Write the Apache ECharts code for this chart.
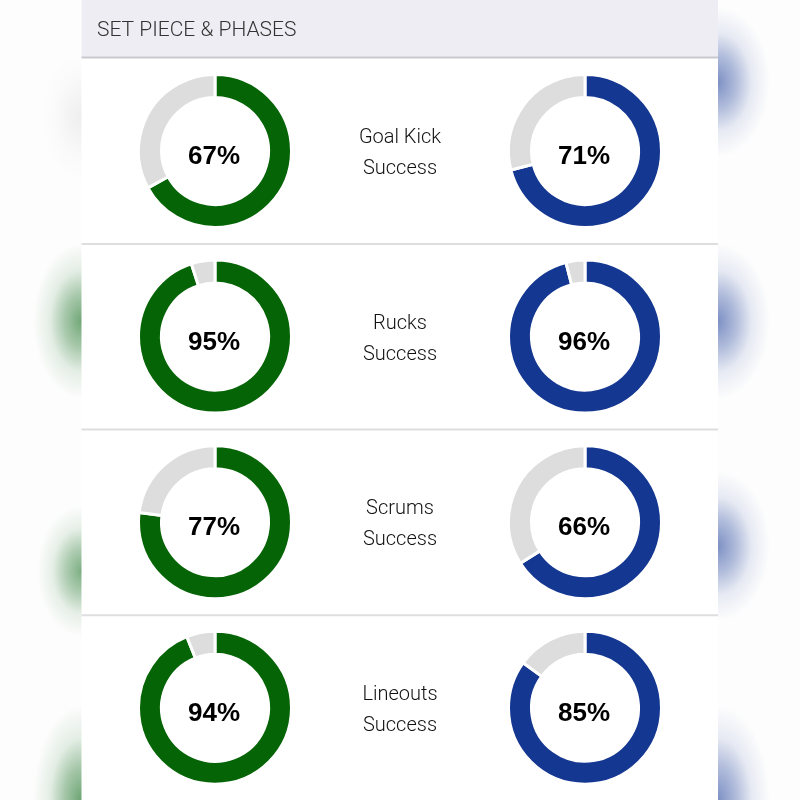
<!DOCTYPE html>
<html>
<head>
<meta charset="utf-8">
<title>Set piece & phases</title>
<script src="https://cdn.jsdelivr.net/npm/echarts@6/dist/echarts.min.js"></script>
<style>
    html, body { margin: 0; padding: 0; }
    body { width: 800px; height: 800px; overflow: hidden; background-color: #fdfdfd; }
    #chart { width: 800px; height: 800px; }
</style>
</head>
<body>
<div id="chart"></div>
<script>
var heading = 'SET PIECE & PHASES';
var categories = ['Goal Kick', 'Rucks', 'Scrums', 'Lineouts'];
var sublabel = 'Success';
var leftValues = [67, 95, 77, 94];
var rightValues = [71, 96, 66, 85];

var GREEN = '#056405';
var BLUE = '#143791';
var REST = '#dddddd';
var ROW_H = 185.6;
var LIGHT_FONT = 'Roboto, "Liberation Sans", sans-serif';

// Nền mờ hai bên khung
var blurs = [
    [81, 117, 40, 65, '120,130,120', 0.12],
    [81, 321, 48, 78, '20,110,30', 0.6],
    [81, 571, 44, 66, '20,110,30', 0.55],
    [81, 800, 48, 95, '20,110,30', 0.62],
    [718, 82, 52, 75, '20,55,150', 0.55],
    [718, 321, 52, 78, '20,55,150', 0.55],
    [718, 546, 52, 75, '20,55,150', 0.55],
    [718, 800, 52, 95, '20,55,150', 0.55]
];
document.body.style.backgroundImage = blurs.map(function (b) {
    var c = b[4];
    return 'radial-gradient(ellipse ' + b[2] + 'px ' + b[3] + 'px at ' + b[0] + 'px ' + b[1] + 'px, ' +
        'rgba(' + c + ',' + b[5] + ') 0%, ' +
        'rgba(' + c + ',' + (b[5] * 0.6) + ') 35%, ' +
        'rgba(' + c + ',' + (b[5] * 0.18) + ') 65%, ' +
        'rgba(' + c + ',0) 100%)';
}).join(',');

// Mỗi vòng tròn là một series pie riêng
function donut(value, x, y, color) {
    return {
        type: 'pie',
        silent: true,
        animation: false,
        center: [x, y],
        radius: [53.5, 76.5],
        startAngle: 90,
        clockwise: true,
        labelLine: { show: false },
        itemStyle: { borderColor: '#fff', borderWidth: 3 },
        data: [
            {
                value: value,
                itemStyle: { color: color },
                label: {
                    show: true,
                    position: 'center',
                    offset: [-1, 6],
                    formatter: value + '%',
                    fontFamily: '"Liberation Sans", sans-serif',
                    fontWeight: 'bold',
                    fontSize: 26,
                    color: '#000'
                }
            },
            { value: 100 - value, itemStyle: { color: REST }, label: { show: false } }
        ]
    };
}

var series = [];
var graphic = [
    { type: 'rect', z: -10, shape: { x: 81.5, y: 0, width: 636.5, height: 800 }, style: { fill: '#fff' } },
    { type: 'rect', z: -9, shape: { x: 81.5, y: 0, width: 636.5, height: 57 }, style: { fill: '#ededf3' } },
    { type: 'rect', z: -9, shape: { x: 81.5, y: 56.5, width: 636.5, height: 2 }, style: { fill: '#c9c9cf' } },
    {
        type: 'text', x: 97, y: 31,
        style: { text: heading, fill: '#333', font: '300 21px ' + LIGHT_FONT, verticalAlign: 'middle' }
    }
];

categories.forEach(function (name, i) {
    var cy = 151 + i * ROW_H;
    series.push(donut(leftValues[i], 215, cy, GREEN));
    series.push(donut(rightValues[i], 585, cy, BLUE));

    graphic.push({
        type: 'text', x: 400, y: cy - 13,
        style: { text: name, fill: '#111', font: '300 20px ' + LIGHT_FONT, align: 'center', verticalAlign: 'middle' }
    });
    graphic.push({
        type: 'text', x: 400, y: cy + 18,
        style: { text: sublabel, fill: '#111', font: '300 20px ' + LIGHT_FONT, align: 'center', verticalAlign: 'middle' }
    });
    if (i < categories.length - 1) {
        graphic.push({
            type: 'rect', z: -9,
            shape: { x: 81.5, y: 243 + i * ROW_H, width: 636.5, height: 2 },
            style: { fill: '#dedee0' }
        });
    }
});

var myChart = echarts.init(document.getElementById('chart'), null, { renderer: 'canvas' });
myChart.setOption({
    animation: false,
    backgroundColor: 'transparent',
    graphic: graphic,
    series: series
});
</script>
</body>
</html>
